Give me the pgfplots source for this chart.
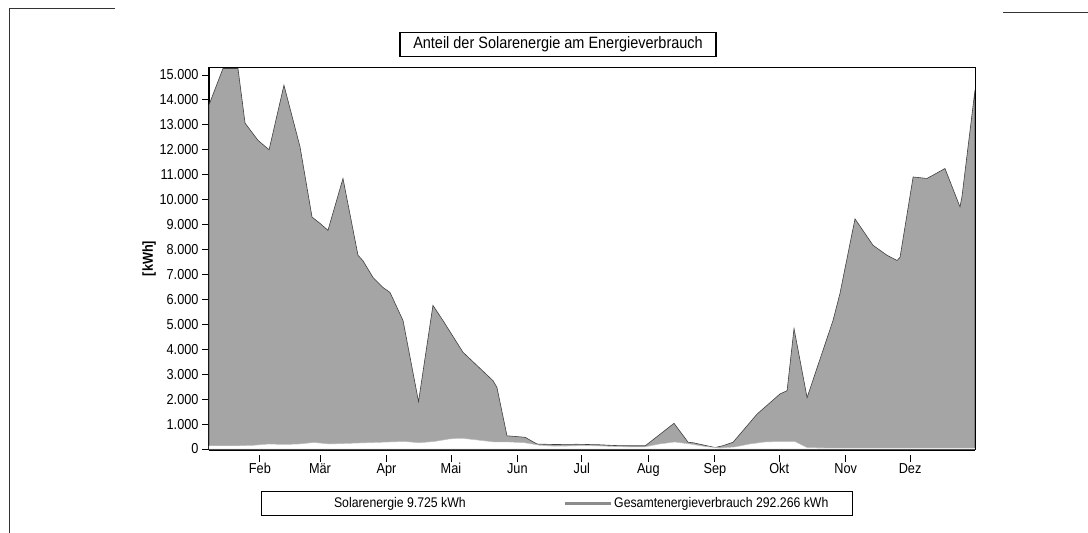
\documentclass[border=0pt]{standalone}
\usepackage{pgfplots}
\pgfplotsset{compat=1.18}
\usepackage{pgfplotstable}
\usepackage{fontspec}
\setmainfont{Liberation Sans}
\newfontfamily\narrow{Liberation Sans}[FakeStretch=0.88]

\definecolor{areagray}{RGB}{165,165,165}

% Gesamtenergieverbrauch, week of year vs. kWh
\pgfplotstableread{
w v
1.00 13800
1.93 15260
2.93 15260
3.40 13070
4.26 12380
5.00 12000
5.99 14590
7.06 12120
7.86 9300
8.39 9050
8.92 8770
9.92 10850
10.92 7770
11.25 7550
11.92 6880
12.58 6480
13.05 6280
13.92 5150
14.95 1900
15.91 5760
16.58 5150
17.91 3880
19.91 2740
20.17 2470
20.84 530
22.04 470
22.84 200
24.00 180
25.50 190
27.00 170
28.00 140
29.00 130
30.05 130
31.96 1030
32.90 270
33.24 250
34.69 60
35.20 130
35.89 270
37.49 1400
39.02 2210
39.49 2340
39.95 4830
40.82 2060
42.55 5160
43.01 6240
44.01 9230
45.21 8170
46.14 7770
46.81 7560
47.01 7690
47.88 10910
48.80 10850
49.20 10980
50.00 11250
51.00 9710
51.13 10110
52.00 14400
}\gesamt

% Solarenergie, week of year vs. kWh
\pgfplotstableread{
w v
1 130
3 130
4 150
5 200
6 180
7 200
8 260
9 200
10 220
11 240
12 260
13 280
14 300
15 250
16 300
17 400
17.6 430
18 420
19 350
20 280
21 280
22 250
23 150
24 110
25 120
26 140
27 120
28 100
29 80
30 80
31 200
32 280
33 200
34 100
35 40
36 80
37 200
38 280
39 300
40 300
40.8 60
42 40
52 40
}\solar

\begin{document}
\begin{tikzpicture}
\path[use as bounding box] (0,0) rectangle (1088bp,-533bp);
\draw[line width=1pt, black!80] (9bp,-8bp) -- (115bp,-8bp);
\draw[line width=1pt, black!80] (9bp,-8bp) -- (9bp,-533bp);
\draw[line width=1pt, black!80] (1003bp,-12bp) -- (1088bp,-12bp);
\node[draw, line width=1.1pt, minimum width=316bp, minimum height=24bp, inner sep=0pt,
      font=\narrow\fontsize{16.5}{19}\selectfont] at (558bp,-44.5bp)
      {Anteil der Solarenergie am Energieverbrauch};
\begin{axis}[
  at={(209bp,-450bp)}, anchor=south west,
  scale only axis, width=766bp, height=383bp,
  xmin=1, xmax=52, ymin=-40, ymax=15320,
  clip=false,
  axis x line*=bottom, axis y line*=left,
  axis line style={-, line width=2pt},
  tick align=outside, major tick length=7bp,
  every tick/.style={black, line width=0.9bp},
  x tick style={yshift=-5bp},
  xtick={4.39,8.39,12.82,17.11,21.53,25.82,30.25,34.68,38.96,43.39,47.68},
  xticklabels={Feb,Mär,Apr,Mai,Jun,Jul,Aug,Sep,Okt,Nov,Dez},
  xticklabel style={yshift=-3bp},
  ytick={0,1000,...,15000},
  scaled y ticks=false,
  /pgf/number format/assume math mode=true,
  yticklabel style={/pgf/number format/1000 sep={.}},
  tick label style={font=\narrow\fontsize{14.5}{16}\selectfont},
  ylabel={[kWh]},
  ylabel style={font=\narrow\bfseries\fontsize{14.5}{16}\selectfont, at={(axis description cs:-0.078,0.5)}, anchor=center},
  legend columns=2,
  legend style={at={(axis description cs:0.4543,-0.1397)}, anchor=center,
    draw=black, line width=1.1pt, font=\narrow\fontsize{14}{16}\selectfont,
    inner xsep=22bp, inner ysep=4.5bp,
    /tikz/every even column/.append style={column sep=96bp}},
]
\addlegendimage{legend image code/.code={\draw[white, line width=2.5bp] (0bp,0bp) -- (46bp,0bp);}}
\addlegendentry{Solarenergie 9.725 kWh}
\addlegendimage{legend image code/.code={\draw[black!45, line width=2.5bp] (0bp,0bp) -- (46bp,0bp);}}
\addlegendentry{Gesamtenergieverbrauch 292.266 kWh}

\addplot[fill=areagray, draw=black!75, line width=0.6bp, forget plot] table[x=w, y=v] {\gesamt} \closedcycle;
\addplot[fill=white, draw=black!25, line width=0.4bp, forget plot] table[x=w, y=v] {\solar} \closedcycle;

\draw[line width=0.8bp] (rel axis cs:0,1) -- (rel axis cs:1,1) -- (rel axis cs:1,0);
\end{axis}
\end{tikzpicture}
\end{document}
